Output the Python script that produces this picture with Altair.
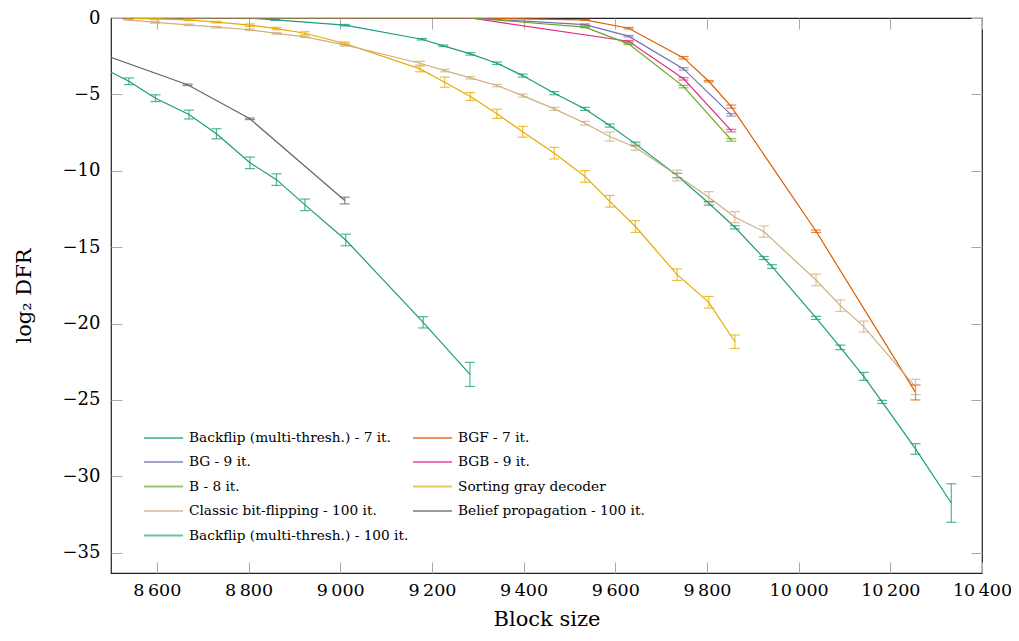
import altair as alt
import pandas as pd

# ---------------- data ----------------
names = [
    "Backflip (multi-thresh.) - 7 it.",
    "BGF - 7 it.",
    "BG - 9 it.",
    "BGB - 9 it.",
    "B - 8 it.",
    "Sorting gray decoder",
    "Classic bit-flipping - 100 it.",
    "Belief propagation - 100 it.",
    "Backflip (multi-thresh.) - 100 it.",
]
colors = ["#1b9e77", "#d95f02", "#7570b3", "#e7298a", "#66a61e",
          "#e6ab02", "#cfae80", "#666666", "#1b9e77"]

bf7_x = [8538, 8669, 8803, 8858, 9010, 9178, 9225, 9284, 9342, 9398, 9467, 9534, 9588,
         9644, 9735, 9804, 9861, 9924, 9942, 10038, 10091, 10142, 10182, 10255, 10333]
bf7_y = [0, 0, 0, -0.12, -0.47, -1.39, -1.82, -2.35, -2.96, -3.77, -4.92, -5.95, -7.04,
         -8.24, -10.31, -12.13, -13.7, -15.71, -16.27, -19.63, -21.56, -23.46, -25.13, -28.21, -31.75]
bf7_e = [0.02, 0.02, 0.02, 0.03, 0.05, 0.05, 0.05, 0.08, 0.08, 0.1, 0.1, 0.1, 0.1,
         0.12, 0.15, 0.12, 0.1, 0.1, 0.12, 0.1, 0.15, 0.26, 0.1, 0.35, 1.26]

bgf_x = [8538, 8669, 8803, 9010, 9284, 9534, 9629, 9749, 9804, 9853, 10038, 10255]
bgf_y = [0, 0, 0, 0, 0, -0.12, -0.67, -2.61, -4.14, -5.8, -13.96, -24.51]
bgf_e = [0.02, 0.02, 0.02, 0.02, 0.02, 0.03, 0.05, 0.08, 0.05, 0.1, 0.08, 0.49]

bg_x = [8538, 8669, 8803, 9010, 9284, 9534, 9629, 9749, 9853]
bg_y = [0, 0, 0, 0, 0, -0.43, -1.19, -3.33, -6.34]
bg_e = [0.02, 0.02, 0.02, 0.02, 0.02, 0.04, 0.05, 0.08, 0.08]

bgb_x = [8538, 8669, 8803, 9010, 9284, 9629, 9749, 9853]
bgb_y = [0, 0, 0, 0, 0, -1.52, -3.98, -7.37]
bgb_e = [0.02, 0.02, 0.02, 0.02, 0.02, 0.05, 0.08, 0.08]

b_x = [8538, 8669, 8803, 9010, 9284, 9534, 9629, 9749, 9853]
b_y = [0, 0, 0, 0, 0, -0.6, -1.69, -4.49, -7.98]
b_e = [0.02, 0.02, 0.02, 0.02, 0.02, 0.04, 0.05, 0.08, 0.08]

sg_x = [8538, 8596, 8669, 8730, 8803, 8861, 8923, 9010, 9174, 9228, 9284, 9342, 9398,
        9467, 9534, 9588, 9644, 9735, 9804, 9861]
sg_y = [-0.03, -0.06, -0.12, -0.27, -0.47, -0.69, -1.0, -1.67, -3.33, -4.2, -5.14, -6.27,
        -7.45, -8.85, -10.37, -12.0, -13.65, -16.8, -18.61, -21.19]
sg_e = [0.05, 0.05, 0.05, 0.05, 0.08, 0.08, 0.1, 0.1, 0.19, 0.33, 0.26, 0.3, 0.35,
        0.38, 0.38, 0.38, 0.39, 0.38, 0.38, 0.44]

cbf_x = [8538, 8596, 8669, 8730, 8803, 8861, 8923, 9010, 9174, 9228, 9284, 9342, 9398,
         9467, 9534, 9588, 9644, 9735, 9804, 9861, 9924, 10038, 10091, 10142, 10255]
cbf_y = [-0.12, -0.29, -0.45, -0.6, -0.77, -1.01, -1.23, -1.76, -2.96, -3.44, -3.92, -4.42,
         -5.08, -5.95, -6.89, -7.76, -8.46, -10.31, -11.73, -13.04, -13.98, -17.15, -18.83,
         -20.2, -24.15]
cbf_e = [0.03, 0.05, 0.05, 0.05, 0.05, 0.05, 0.05, 0.08, 0.12, 0.08, 0.08, 0.08, 0.1,
         0.1, 0.12, 0.3, 0.2, 0.35, 0.36, 0.36, 0.37, 0.38, 0.38, 0.36, 0.5]

bp_x = [8460, 8667, 8803, 9010]
bp_y = [-2.14, -4.37, -6.6, -11.95]
bp_e = [0.05, 0.05, 0.05, 0.22]

bf100_x = [8480, 8539, 8597, 8670, 8730, 8803, 8861, 8923, 9012, 9181, 9283]
bf100_y = [-3.24, -4.14, -5.25, -6.32, -7.58, -9.48, -10.58, -12.23, -14.53, -19.92, -23.33]
bf100_e = [0.2, 0.22, 0.22, 0.29, 0.33, 0.38, 0.38, 0.38, 0.38, 0.37, 0.79]

x_ticks = [8600, 8800, 9000, 9200, 9400, 9600, 9800, 10000, 10200, 10400]
y_ticks = [0, -5, -10, -15, -20, -25, -30, -35]

series = [
    (bf7_x, bf7_y, bf7_e), (bgf_x, bgf_y, bgf_e), (bg_x, bg_y, bg_e),
    (bgb_x, bgb_y, bgb_e), (b_x, b_y, b_e), (sg_x, sg_y, sg_e),
    (cbf_x, cbf_y, cbf_e), (bp_x, bp_y, bp_e), (bf100_x, bf100_y, bf100_e),
]

rows = []
for name, (xs, ys, es) in zip(names, series):
    for xv, yv, ev in zip(xs, ys, es):
        rows.append({"series": name, "x": xv, "y": yv, "lo": yv - ev, "hi": yv + ev})
df = pd.DataFrame(rows)

# ---------------- chart ----------------
F = "DejaVu Serif"
xscale = alt.Scale(domain=[8500, 10400], nice=False, zero=False)
yscale = alt.Scale(domain=[-36.33, 0], nice=False, zero=False)
cscale = alt.Scale(domain=names, range=colors)

base = alt.Chart(df)

legend = alt.Legend(
    orient="none", legendX=45, legendY=412, columns=2, direction="horizontal", title=None,
    symbolType="M-3,0H3", symbolSize=169, symbolStrokeWidth=2, symbolOpacity=0.65,
    labelFont=F, labelFontSize=13.7, labelColor="#000", labelOffset=18, labelLimit=400,
    rowPadding=9.5, columnPadding=0, padding=0,
)

lines = base.mark_line(strokeWidth=1.2, clip=True).encode(
    x=alt.X("x:Q", scale=xscale, axis=alt.Axis(
        orient="bottom", values=x_ticks,
        labelExpr="replace(format(datum.value, ','), ',', '\u2009')",
        ticks=False, domain=False, grid=False, labelFlush=False, labelOverlap=False,
        labelFont=F, labelFontSize=17.5, labelColor="#000", labelPadding=8,
        title="Block size", titleFont=F, titleFontSize=21, titleFontWeight="normal",
        titleColor="#000", titlePadding=10)),
    y=alt.Y("y:Q", scale=yscale, axis=alt.Axis(
        orient="left", values=y_ticks, ticks=False, domain=False, grid=False,
        labelFlush=False, labelOverlap=False,
        labelFont=F, labelFontSize=18, labelColor="#000", labelPadding=11,
        title="log\u2082 DFR", titleFont=F, titleFontSize=21, titleFontWeight="normal",
        titleColor="#000", titlePadding=28)),
    color=alt.Color("series:N", scale=cscale, legend=legend, sort=names),
)

errbars = base.mark_errorbar(ticks=True, size=10, thickness=1.2, clip=True, opacity=0.75).encode(
    x=alt.X("x:Q", scale=xscale, title=None, axis=alt.Axis(
        orient="bottom", values=x_ticks, labels=False, domain=False, grid=False,
        ticks=True, tickSize=11, tickColor="#aaaaaa", tickWidth=1, offset=-11)),
    y=alt.Y("lo:Q", scale=yscale, title=None, axis=alt.Axis(
        orient="left", values=y_ticks, labels=False, domain=False, grid=False,
        ticks=True, tickSize=11, tickColor="#aaaaaa", tickWidth=1, offset=-11)),
    y2="hi:Q",
    color=alt.Color("series:N", scale=cscale, legend=None),
)

ghost = base.mark_point(opacity=0, clip=True).encode(
    x=alt.X("x:Q", scale=xscale, title=None, axis=alt.Axis(
        orient="top", values=x_ticks, labels=False, domain=False, grid=False,
        ticks=True, tickSize=11, tickColor="#aaaaaa", tickWidth=1, offset=-11)),
    y=alt.Y("y:Q", scale=yscale, title=None, axis=alt.Axis(
        orient="right", values=y_ticks, labels=False, domain=False, grid=False,
        ticks=True, tickSize=11, tickColor="#aaaaaa", tickWidth=1, offset=-11)),
)

chart = alt.layer(lines, errbars, ghost).resolve_axis(
    x="independent", y="independent"
).properties(
    width=871, height=555,
    autosize=alt.AutoSizeParams(type="none"),
    padding={"left": 103, "top": 10, "right": 29, "bottom": 60},
    background="white",
).configure_view(stroke="#222222", strokeWidth=1.2)

chart.save("out.html", embed_options={"renderer": "svg", "actions": False})
